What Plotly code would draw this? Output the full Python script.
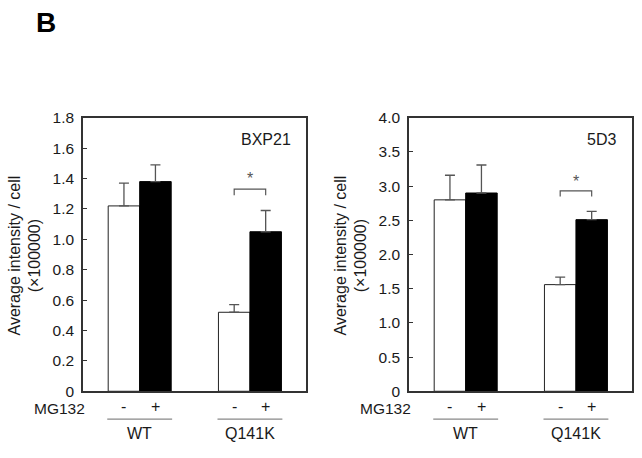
import plotly.graph_objects as go

# ---- data ----
groups = ["WT", "Q141K"]
mg132 = ["-", "+"]

bxp21_minus = [1.22, 0.52]
bxp21_minus_err = [0.15, 0.05]
bxp21_plus = [1.38, 1.05]
bxp21_plus_err = [0.11, 0.14]

d5d3_minus = [2.80, 1.56]
d5d3_minus_err = [0.36, 0.11]
d5d3_plus = [2.90, 2.51]
d5d3_plus_err = [0.41, 0.12]

panel_names = ["BXP21", "5D3"]
y_max = [1.8, 4.0]
y_step = [0.2, 0.5]
# significance bracket (top level, leg level, star level) for Q141K
sig_bracket = [(1.33, 1.29, 1.40), (2.93, 2.85, 3.07)]

# ---- layout helpers ----
W, H = 642, 458
group_centers = [1.8, 5.3]
bar_w = 1.0
x_range = [0, 7.08]
dom_x = [[83 / W, 306 / W], [409 / W, 632 / W]]
dom_y = [(458 - 397) / H, (458 - 113) / H]
FONT = "Liberation Sans, Arial, sans-serif"
GRAY = "#555555"
TXT = "#1a1a1a"

fig = go.Figure()

datasets = [
    (bxp21_minus, bxp21_minus_err, bxp21_plus, bxp21_plus_err),
    (d5d3_minus, d5d3_minus_err, d5d3_plus, d5d3_plus_err),
]

annotations = []
shapes = []

for p, (vm, em, vp, ep) in enumerate(datasets):
    xa = "x" if p == 0 else "x2"
    ya = "y" if p == 0 else "y2"
    xm = [c - bar_w / 2 for c in group_centers]
    xp = [c + bar_w / 2 for c in group_centers]
    fig.add_trace(go.Bar(
        x=xm, y=vm, width=bar_w, xaxis=xa, yaxis=ya,
        marker=dict(color="white", line=dict(color="#222222", width=1)),
        error_y=dict(type="data", array=em, arrayminus=[0] * len(em), symmetric=False,
                     color=GRAY, thickness=1.3, width=5),
        showlegend=False,
    ))
    fig.add_trace(go.Bar(
        x=xp, y=vp, width=bar_w, xaxis=xa, yaxis=ya,
        marker=dict(color="black", line=dict(color="black", width=1)),
        error_y=dict(type="data", array=ep, arrayminus=[0] * len(ep), symmetric=False,
                     color=GRAY, thickness=1.3, width=5),
        showlegend=False,
    ))

    # axes
    n = int(round(y_max[p] / y_step[p]))
    tv = [round(i * y_step[p], 2) for i in range(n + 1)]
    tt = ["0"] + [f"{v:.1f}" for v in tv[1:]]
    xkey = "xaxis" if p == 0 else "xaxis2"
    ykey = "yaxis" if p == 0 else "yaxis2"
    fig.update_layout(**{
        xkey: dict(domain=dom_x[p], range=x_range, showgrid=False, zeroline=False,
                   showticklabels=False, ticks="", showline=True, mirror=True,
                   linecolor="#333333", linewidth=1.5, anchor=ya, fixedrange=True),
        ykey: dict(domain=dom_y, range=[0, y_max[p]], showgrid=False, zeroline=False,
                   tickvals=tv, ticktext=tt, ticks="inside", ticklen=4, tickwidth=1,
                   tickcolor="#333333", showline=True, mirror=True, linecolor="#333333",
                   linewidth=1.5, anchor=xa, ticklabelstandoff=4,
                   tickfont=dict(size=15.5, color=TXT, family=FONT),
                   fixedrange=True),
    })

    xref = xa
    yref = ya
    # panel name
    right_px = [293, 618][p]
    annotations.append(dict(text=panel_names[p], xref="paper", yref="paper",
                            x=right_px / W, y=(458 - 136) / H, xanchor="right", yanchor="middle",
                            showarrow=False, font=dict(size=16, color=TXT, family=FONT)))
    # y title
    tx = [25, 351][p]
    annotations.append(dict(text="Average intensity / cell<br>(×100000)", xref="paper", yref="paper",
                            x=tx / W, y=(458 - 256) / H, xanchor="center", yanchor="middle",
                            textangle=-90, showarrow=False,
                            font=dict(size=16, color=TXT, family=FONT)))
    # MG132 row
    mg_px = [87, 413][p]
    annotations.append(dict(text="MG132", xref="paper", yref="paper", x=mg_px / W,
                            y=(458 - 415) / H, xanchor="right", yanchor="middle",
                            showarrow=False, font=dict(size=15.5, color=TXT, family=FONT)))
    for c in group_centers:
        for s, sign in zip([-1, 1], mg132):
            annotations.append(dict(text=sign, xref=xref, yref="paper", x=c + s * bar_w / 2,
                                    y=(458 - 413) / H, xanchor="center", yanchor="middle",
                                    showarrow=False, font=dict(size=16, color=TXT, family=FONT)))
    for c, g in zip(group_centers, groups):
        shapes.append(dict(type="line", xref=xref, yref="paper", x0=c - bar_w - 0.03, x1=c + bar_w + 0.03,
                           y0=(458 - 426) / H, y1=(458 - 426) / H, line=dict(color="#888888", width=1.3)))
        annotations.append(dict(text=g, xref=xref, yref="paper", x=c, y=(458 - 441) / H,
                                xanchor="center", yanchor="middle", showarrow=False,
                                font=dict(size=16, color=TXT, family=FONT)))
    # significance bracket over Q141K
    top, leg, star = sig_bracket[p]
    c = group_centers[1]
    x1, x2 = c - bar_w / 2, c + bar_w / 2
    shapes.append(dict(type="path", xref=xref, yref=yref,
                       path=f"M {x1},{leg} L {x1},{top} L {x2},{top} L {x2},{leg}",
                       line=dict(color=GRAY, width=1.2)))
    annotations.append(dict(text="*", xref=xref, yref=yref, x=c, y=star, xanchor="center",
                            yanchor="middle", showarrow=False,
                            font=dict(size=16, color=GRAY, family=FONT)))

annotations.append(dict(text="<b>B</b>", xref="paper", yref="paper", x=34 / W, y=(458 - 14) / H,
                        xanchor="left", yanchor="middle", showarrow=False,
                        font=dict(size=28, color="black", family=FONT)))

fig.update_layout(
    width=W, height=H, margin=dict(l=0, r=0, t=0, b=0),
    paper_bgcolor="white", plot_bgcolor="white",
    barmode="overlay", annotations=annotations, shapes=shapes,
    font=dict(family=FONT, color=TXT),
)

fig.write_html("out.html", config={"displayModeBar": False},
               post_script="document.body.style.margin='0px';")
